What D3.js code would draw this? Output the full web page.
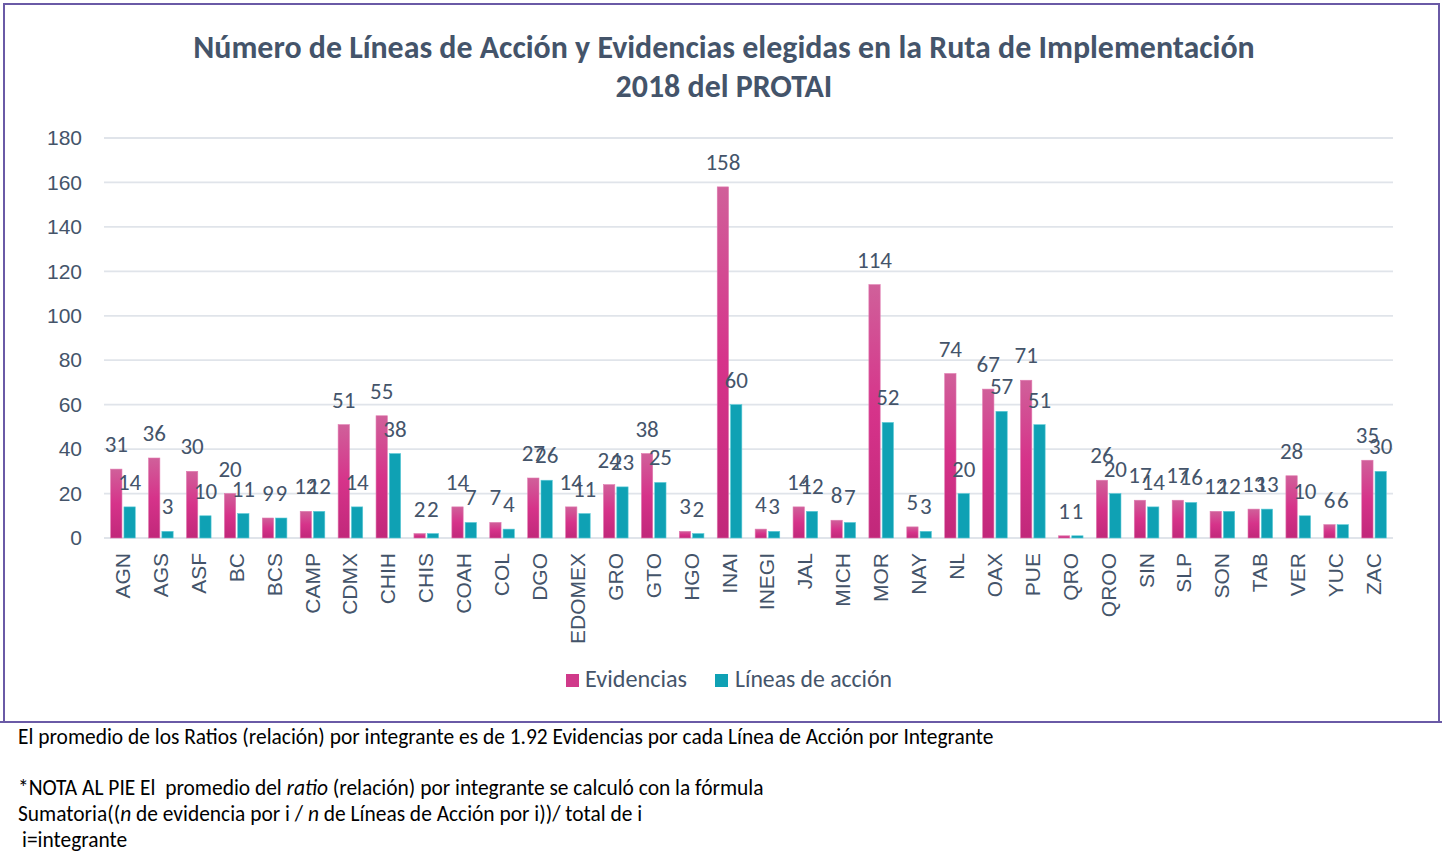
<!DOCTYPE html>
<html><head><meta charset="utf-8">
<script src="https://cdn.jsdelivr.net/npm/d3@7/dist/d3.min.js"></script>
<style>
html,body{margin:0;padding:0;background:#fff;}
svg{display:block;font-family:Carlito,Lato,"Open Sans",sans-serif;}
</style></head><body>
<svg id="c" width="1442" height="854"></svg>
<script>
const categories = ["AGN","AGS","ASF","BC","BCS","CAMP","CDMX","CHIH","CHIS","COAH","COL","DGO","EDOMEX","GRO","GTO","HGO","INAI","INEGI","JAL","MICH","MOR","NAY","NL","OAX","PUE","QRO","QROO","SIN","SLP","SON","TAB","VER","YUC","ZAC"];
const evidencias = [31,36,30,20,9,12,51,55,2,14,7,27,14,24,38,3,158,4,14,8,114,5,74,67,71,1,26,17,17,12,13,28,6,35];
const lineasAccion = [14,3,10,11,9,12,14,38,2,7,4,26,11,23,25,2,60,3,12,7,52,3,20,57,51,1,20,14,16,12,13,10,6,30];
const yTicks = [0,20,40,60,80,100,120,140,160,180];
const seriesNames = ["Evidencias","Líneas de acción"];
const titleLines = ["Número de Líneas de Acción y Evidencias elegidas en la Ruta de Implementación","2018 del PROTAI"];

const svg = d3.select("#c");
const textColor = "#44546a";
const border = "#6a5aa6";

const defs = svg.append("defs");
const g1 = defs.append("linearGradient").attr("id","gEv").attr("x1",0).attr("y1",0).attr("x2",0).attr("y2",1);
g1.append("stop").attr("offset","0%").attr("stop-color","#d0609a");
g1.append("stop").attr("offset","50%").attr("stop-color","#d6338a");
g1.append("stop").attr("offset","100%").attr("stop-color","#c1287a");
const colors = ["url(#gEv)","#0fa1b4"];
const legendColors = ["#d03a8a","#0fa1b4"];

svg.append("rect").attr("x",4).attr("y",4).attr("width",1435).attr("height",718)
  .attr("fill","none").attr("stroke",border).attr("stroke-width",2);
svg.append("line").attr("x1",0).attr("x2",1442).attr("y1",722).attr("y2",722).attr("stroke",border).attr("stroke-width",2);

function fit(sel, target){
  const w = sel.node().getComputedTextLength();
  const fs = parseFloat(sel.attr("font-size"));
  sel.attr("font-size", (fs*target/w).toFixed(2));
}

const t1 = svg.append("text").attr("x",724).attr("y",58).attr("text-anchor","middle")
  .attr("font-weight","bold").attr("font-size",27).attr("fill",textColor).text(titleLines[0]);
fit(t1,1062);
svg.append("text").attr("x",724).attr("y",97).attr("text-anchor","middle")
  .attr("font-weight","bold").attr("font-size",t1.attr("font-size")).attr("fill",textColor).text(titleLines[1]);

const x = d3.scaleBand().domain(categories).range([104,1393]).padding(0);
const xs = d3.scaleBand().domain([0,1]).range([0,x.bandwidth()]).paddingInner(0.15).paddingOuter(0.5);
const y = d3.scaleLinear().domain([0,180]).range([538,138]);

svg.append("g").selectAll("line").data(yTicks).join("line")
  .attr("x1",104).attr("x2",1393).attr("y1",d=>y(d)).attr("y2",d=>y(d))
  .attr("stroke","#e0e4ea").attr("stroke-width",1.8);

const yAxis = svg.append("g").attr("transform","translate(86,0)")
  .call(d3.axisLeft(y).tickValues(yTicks).tickSize(0).tickPadding(4));
yAxis.select(".domain").remove();
yAxis.selectAll("text").attr("font-size",21).attr("fill",textColor).attr("font-family","inherit");

const xAxis = svg.append("g").attr("transform","translate(0,538)")
  .call(d3.axisBottom(x).tickSize(0));
xAxis.select(".domain").remove();
xAxis.selectAll("text").attr("font-size",21).attr("fill",textColor).attr("font-family","inherit")
  .attr("text-anchor","end").attr("dy",null).attr("y",0)
  .attr("transform","translate(7,15) rotate(-90)");

const data = [evidencias, lineasAccion];
data.forEach((vals,si)=>{
  const g = svg.append("g");
  g.selectAll("rect").data(vals).join("rect")
    .attr("x",(d,i)=>x(categories[i])+xs(si))
    .attr("width",xs.bandwidth())
    .attr("y",d=>y(d)).attr("height",d=>y(0)-y(d))
    .attr("fill",colors[si])
    .attr("stroke", si===1 ? "#5ccbd8" : "#e07ab0").attr("stroke-width",0.6);
});
data.forEach((vals,si)=>{
  svg.append("g").selectAll("text").data(vals).join("text")
    .attr("x",(d,i)=>x(categories[i])+xs(si)+xs.bandwidth()/2)
    .attr("y",d=>y(d)-17)
    .attr("text-anchor","middle").attr("font-size",23).attr("fill",textColor)
    .text(d=>d);
});

const leg = svg.append("g");
const legItems = [{x:566, tx:585},{x:715, tx:735}];
seriesNames.forEach((n,i)=>{
  leg.append("rect").attr("x",legItems[i].x).attr("y",674).attr("width",13).attr("height",13).attr("fill",legendColors[i]);
  const t = leg.append("text").attr("x",legItems[i].tx).attr("y",687).attr("font-size",21).attr("fill",textColor).text(n);
  fit(t, i===0?102:157);
});

const fn = svg.append("g").attr("fill","#000");
const l1 = fn.append("text").attr("x",18).attr("y",744).attr("font-size",19)
  .text("El promedio de los Ratios (relación) por integrante es de 1.92 Evidencias por cada Línea de Acción por Integrante");
fit(l1,976);
const fs = l1.attr("font-size");
const l2 = fn.append("text").attr("x",18).attr("y",795).attr("font-size",fs).attr("xml:space","preserve");
l2.append("tspan").text("*NOTA AL PIE El  promedio del ");
l2.append("tspan").attr("font-style","italic").text("ratio");
l2.append("tspan").text(" (relación) por integrante se calculó con la fórmula");
const l3 = fn.append("text").attr("x",18).attr("y",821).attr("font-size",fs);
l3.append("tspan").text("Sumatoria((");
l3.append("tspan").attr("font-style","italic").text("n");
l3.append("tspan").text(" de evidencia por i / ");
l3.append("tspan").attr("font-style","italic").text("n");
l3.append("tspan").text(" de Líneas de Acción por i))/ total de i");
fn.append("text").attr("x",22).attr("y",847).attr("font-size",fs).text("i=integrante");
</script>
</body></html>
